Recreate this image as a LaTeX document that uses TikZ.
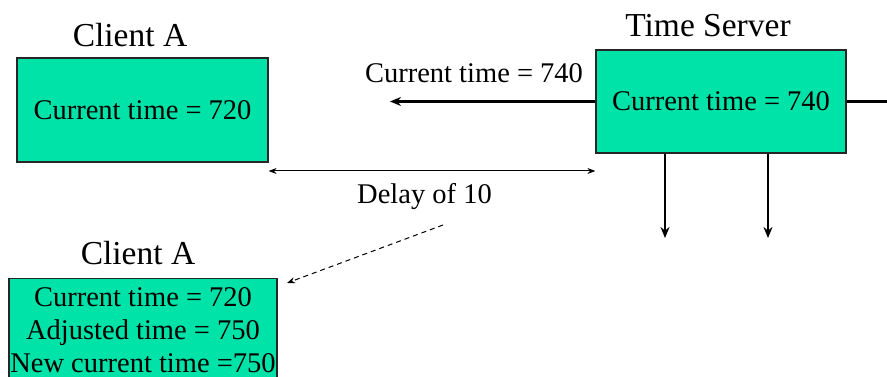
\documentclass[tikz,border=0pt]{standalone}
\usepackage{fontspec}
\setmainfont{Liberation Serif}
\usetikzlibrary{arrows.meta}
\definecolor{boxgreen}{RGB}{0,227,168}
\tikzset{
  box/.style={draw=black!85, line width=1.2pt, fill=boxgreen, inner sep=0pt,
    font=\fontsize{28.5}{33}\selectfont},
  title/.style={anchor=base, inner sep=0pt, font=\fontsize{33.5}{38}\selectfont},
  lbl/.style={anchor=base, inner sep=0pt, font=\fontsize{28.5}{33}\selectfont},
  heavy/.style={line width=2.6pt, -{Stealth[length=11pt,width=9pt]}},
  thin/.style={line width=1pt, {Stealth[length=8pt,width=6pt]}-{Stealth[length=8pt,width=6pt]}},
  hint/.style={line width=1pt, dashed, dash pattern=on 5pt off 4pt, -{Stealth[length=8pt,width=6pt]}}
}
\begin{document}
\begin{tikzpicture}[x=1pt, y=-1pt]
  \useasboundingbox (0,0) rectangle (887,377);
  \clip (0,0) rectangle (887,377);

  % client before synchronisation
  \node[title] (ta) at (130,47) {Client A};
  \node[box, minimum width=251, minimum height=104] (client) at (142.5,110) {Current time = 720};

  % time server
  \node[title] (ts) at (708,37) {Time Server};
  \node[box, minimum width=250, minimum height=103] (server) at (721,101.5) {Current time = 740};

  % client after synchronisation
  \node[title] (tb) at (138,265) {Client A};
  \node[box, align=center, minimum width=268, minimum height=104, anchor=north] (adjusted)
    at (143,278) {Current time = 720\\Adjusted time = 750\\New current time =750};

  % server broadcasts its time
  \coordinate (reply) at (390,101.5);
  \coordinate (east) at (887,101.5);
  \coordinate (down1) at (665,238);
  \coordinate (down2) at (768,238);
  \draw[heavy] (server.west |- reply) -- (reply);
  \draw[line width=2.6pt] (server.east |- east) -- (east);
  \draw[heavy] (server.south -| down1) -- (down1);
  \draw[heavy] (server.south -| down2) -- (down2);
  \node[lbl] (msg) at (474,83) {Current time = 740};

  % transmission delay
  \coordinate (d1) at (client.east |- 0,171);
  \coordinate (d2) at (server.west |- 0,171);
  \draw[thin] (d1) -- (d2);
  \node[lbl] (delay) at (424.5,204) {Delay of 10};

  % adjustment hint
  \coordinate (hs) at (443,225);
  \coordinate (he) at (287,283);
  \draw[hint] (hs) -- (he);
\end{tikzpicture}
\end{document}
